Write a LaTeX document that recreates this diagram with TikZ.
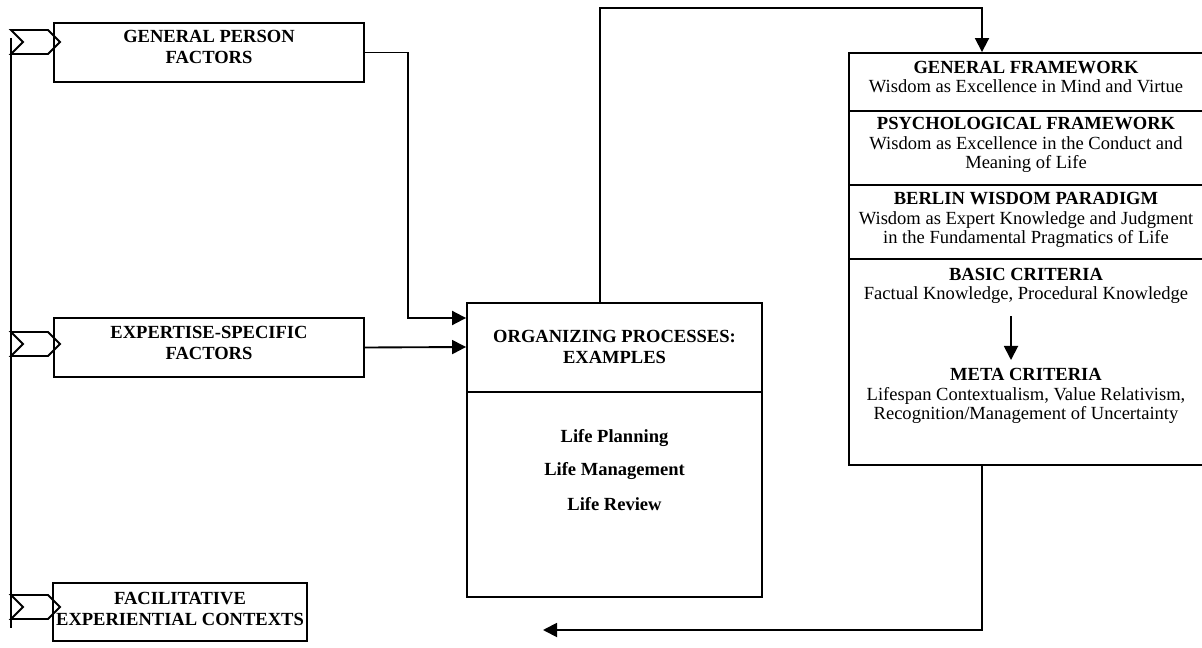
\documentclass[tikz,border=0pt]{standalone}
\usepackage{fontspec}
\setmainfont{Liberation Serif}
\usetikzlibrary{arrows.meta,calc}
\begin{document}
\begin{tikzpicture}[x=0.75pt,y=-0.75pt,
  box/.style={draw,line width=1.4pt,rectangle,inner sep=0pt},
  conn/.style={line width=1.4pt},
  arr/.style={conn,-{Triangle[length=10.5pt,width=10.5pt]}},
  tb/.style={align=center,inner sep=0pt,font=\fontsize{13.9}{15.2}\selectfont\bfseries},
  tr/.style={align=center,inner sep=0pt,font=\fontsize{13.9}{14.4}\selectfont},
  chev/.style={line width=1.4pt,line join=miter},
]
\useasboundingbox (0,0) rectangle (1202,648);

% left boxes
\node[box,minimum width=232.5pt,minimum height=44.25pt] (gpf) at (209,52.5) {};
\node[tb] (gpft) at (209,47) {GENERAL PERSON\\FACTORS};
\node[box,minimum width=232.5pt,minimum height=44.25pt] (esf) at (209,347.5) {};
\node[tb] (esft) at (209,343) {EXPERTISE-SPECIFIC\\FACTORS};
\node[box,minimum width=190.5pt,minimum height=43.5pt] (fec) at (180,612) {};
\node[tb] (fect) at (180,609) {FACILITATIVE\\EXPERIENTIAL CONTEXTS};

% chevrons and left line
\draw[conn] (11,38) -- (11,628);
\foreach \c in {42,344,607}{
  \draw[chev] (11,\c-12) -- (48,\c-12) -- (60,\c) -- (48,\c+12) -- (11,\c+12) -- (23,\c) -- cycle;
}

% organizing box
\node[box,minimum width=221.25pt,minimum height=220.5pt] (org) at (614.5,450) {};
\draw[conn] (org.west |- 0,392) -- (org.east |- 0,392);
\node[tb] (orgt) at (614.5,347) {ORGANIZING PROCESSES:\\EXAMPLES};
\node[tb] (lp) at (614.5,438) {Life Planning};
\node[tb] (lm) at (614.5,471) {Life Management};
\node[tb] (lr) at (614.5,504) {Life Review};

% right box
\node[box,minimum width=267.75pt,minimum height=309pt] (rb) at (1027.5,259) {};
\draw[conn] (rb.west |- 0,111) -- (rb.east |- 0,111);
\draw[conn] (rb.west |- 0,185) -- (rb.east |- 0,185);
\draw[conn] (rb.west |- 0,259) -- (rb.east |- 0,259);
\node[tr] (gf) at (1026,77) {\textbf{GENERAL FRAMEWORK}\\Wisdom as Excellence in Mind and Virtue};
\node[tr] (pf) at (1026,145) {\textbf{PSYCHOLOGICAL FRAMEWORK}\\Wisdom as Excellence in the Conduct and\\Meaning of Life};
\node[tr] (bw) at (1026,220) {\textbf{BERLIN WISDOM PARADIGM}\\Wisdom as Expert Knowledge and Judgment\\in the Fundamental Pragmatics of Life};
\node[tr] (bc) at (1026,286) {\textbf{BASIC CRITERIA}\\Factual Knowledge, Procedural Knowledge};
\node[tr] (mc) at (1026,396) {\textbf{META CRITERIA}\\Lifespan Contextualism, Value Relativism,\\Recognition/Management of Uncertainty};
\draw[arr] (bc.south -| 1011,0) ++(0,12) -- (1011,360);

% connectors
\draw[arr] (gpf.east) -| (408,318) -- (org.west |- 0,318);
\draw[arr] (esf.east) -- (org.west |- 0,347);
\draw[arr] (org.north -| 600,0) |- (982,8) -- (rb.north -| 982,0);
\coordinate (back) at (543,630);
\draw[arr] (rb.south -| 982,0) |- (back);
\end{tikzpicture}
\end{document}
